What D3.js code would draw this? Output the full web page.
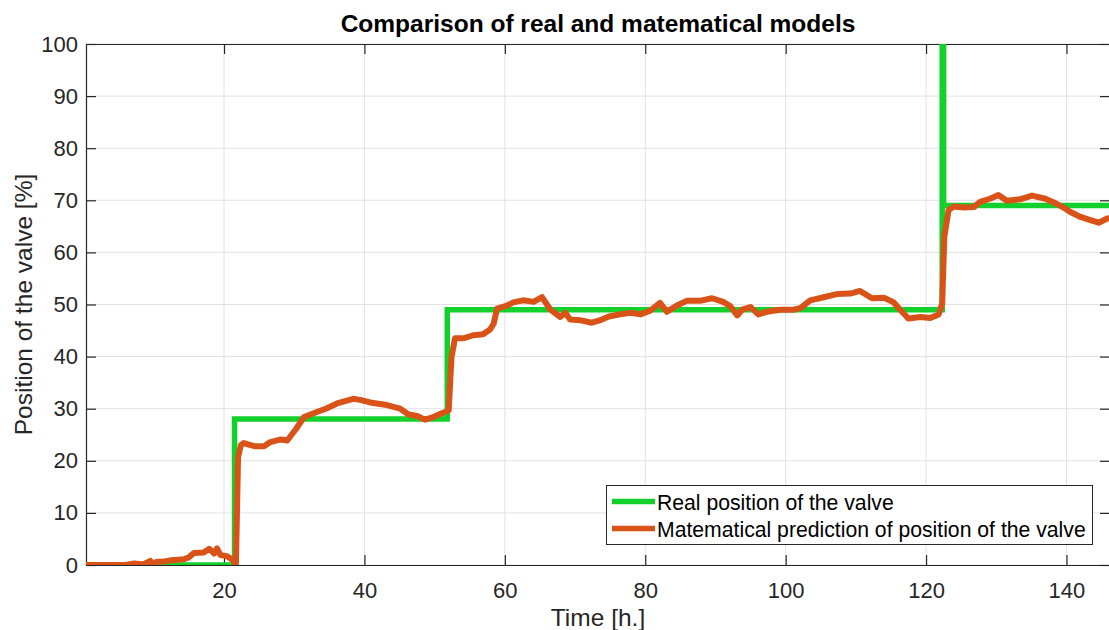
<!DOCTYPE html>
<html>
<head>
<meta charset="utf-8">
<script src="https://cdn.jsdelivr.net/npm/d3@7"></script>
<style>
  html, body { margin: 0; padding: 0; background: #fff; }
  svg { display: block; font-family: "Liberation Sans", Arial, Helvetica, sans-serif; }
</style>
</head>
<body>
<svg id="chart" width="1109" height="630"></svg>
<script>
// Real valve position (step signal): time in hours and position in %
const realTime  = [0.34, 21.5, 51.8, 122.3, 122.5, 146.2];
const realValue = [0,    28,   49,   105,   69,    69];

// Model prediction of the valve position
const predTime = [
  0.34, 3, 6, 7.2, 8.5, 9.5, 9.9, 10.3, 11.4, 12.5, 14.3, 15.0, 15.7, 17.1, 17.9, 18.6,
  19.0, 19.5, 20.4, 21.0, 21.7, 22.0, 22.4, 22.8, 24.3, 25.7, 26.6, 28.1, 29.0, 30.2,
  31.4, 33.3, 34.5, 36.1, 38.4, 39.4, 40.8, 43.2, 45.1, 46.3, 47.5, 48.6, 49.8, 51.2,
  52.0, 52.4, 52.9, 54.1, 55.5, 56.9, 57.9, 58.4, 58.9, 60.3, 61.2, 62.6, 64.1, 65.3,
  66.5, 67.9, 68.6, 69.3, 70.7, 72.4, 73.6, 74.8, 76.4, 77.9, 79.3, 80.7, 82.1, 83.1,
  84.5, 85.9, 87.8, 89.5, 91.1, 92.1, 93.1, 93.8, 95.0, 96.1, 97.3, 99.2, 101.1, 102.1,
  103.5, 105.4, 107.3, 109.2, 110.6, 112.3, 114.0, 115.4, 116.3, 117.5, 119.2, 120.6,
  121.8, 122.3, 122.6, 123.2, 123.9, 125.4, 126.8, 127.7, 129.1, 130.3, 131.5, 133.4,
  135.1, 137.0, 138.2, 139.6, 140.5, 142.0, 143.4, 144.6, 145.8, 146.2
];
const predValue = [
  0, 0, 0, 0.3, 0.1, 0.8, -1.0, 0.6, 0.65, 0.9, 1.1, 1.5, 2.3, 2.4, 3.1, 2.2,
  3.2, 1.9, 1.7, 1.2, 0.3, 20.7, 23.0, 23.4, 22.8, 22.8, 23.6, 24.1, 23.9, 26.0,
  28.4, 29.4, 30.0, 31.0, 31.9, 31.7, 31.2, 30.7, 30.0, 28.9, 28.6, 27.9, 28.4, 29.2,
  29.7, 39.9, 43.5, 43.5, 44.1, 44.3, 45.2, 46.3, 49.2, 49.8, 50.4, 50.8, 50.5, 51.4,
  49.0, 47.6, 48.4, 47.1, 47.0, 46.5, 47.0, 47.7, 48.1, 48.4, 48.1, 48.8, 50.3, 48.6,
  49.8, 50.7, 50.7, 51.2, 50.5, 49.7, 47.9, 49.0, 49.5, 48.1, 48.6, 49.0, 49.0, 49.3,
  50.8, 51.4, 52.0, 52.1, 52.6, 51.2, 51.3, 50.4, 49.0, 47.3, 47.6, 47.4,
  48.1, 50.2, 63.0, 68.1, 68.8, 68.6, 68.7, 69.7, 70.3, 71.0, 69.9, 70.2,
  70.9, 70.3, 69.6, 68.6, 67.8, 66.8, 66.2, 65.7, 66.5, 66.6
];

const xTicks = [20, 40, 60, 80, 100, 120, 140];
const yTicks = [0, 10, 20, 30, 40, 50, 60, 70, 80, 90, 100];

const titleText = "Comparison of real and matematical models";
const xLabel = "Time [h.]";
const yLabel = "Position of the valve [%]";
const seriesNames = ["Real position of the valve", "Matematical prediction of position of the valve"];
const seriesColors = ["#13d12d", "#d95319"];

const svg = d3.select("#chart");
const plotLeft = 86, plotRight = 1110, plotTop = 44, plotBottom = 565;
const axisColor = "#262626";

const x = d3.scaleLinear().domain([0.34, 146.2]).range([plotLeft, plotRight]);
const y = d3.scaleLinear().domain([0, 100]).range([plotBottom, plotTop]);

svg.append("defs").append("clipPath").attr("id", "plotClip")
  .append("rect").attr("x", plotLeft).attr("y", plotTop)
  .attr("width", plotRight - plotLeft).attr("height", plotBottom - plotTop);

// grid
const grid = svg.append("g");
grid.selectAll("line.gx").data(xTicks).join("line")
  .attr("x1", d => x(d)).attr("x2", d => x(d))
  .attr("y1", plotTop).attr("y2", plotBottom)
  .attr("stroke", "#e2e2e2").attr("stroke-width", 1);
grid.selectAll("line.gy").data(yTicks).join("line")
  .attr("y1", d => y(d)).attr("y2", d => y(d))
  .attr("x1", plotLeft).attr("x2", plotRight)
  .attr("stroke", "#e2e2e2").attr("stroke-width", 1);

// axes with inward ticks
const tickLen = 10;
const xAxisB = svg.append("g").attr("transform", `translate(0,${plotBottom})`)
  .call(d3.axisBottom(x).tickValues(xTicks).tickSizeInner(-tickLen).tickSizeOuter(0).tickPadding(18));
const xAxisT = svg.append("g").attr("transform", `translate(0,${plotTop})`)
  .call(d3.axisTop(x).tickValues(xTicks).tickSizeInner(-tickLen).tickSizeOuter(0).tickFormat(""));
const yAxisL = svg.append("g").attr("transform", `translate(${plotLeft},0)`)
  .call(d3.axisLeft(y).tickValues(yTicks).tickSizeInner(-tickLen).tickSizeOuter(0).tickPadding(18));
const yAxisR = svg.append("g").attr("transform", `translate(${plotRight},0)`)
  .call(d3.axisRight(y).tickValues(yTicks).tickSizeInner(-tickLen).tickSizeOuter(0).tickFormat(""));

[xAxisB, xAxisT, yAxisL, yAxisR].forEach(g => {
  g.select(".domain").attr("stroke", axisColor).attr("stroke-width", 1.2);
  g.selectAll(".tick line").attr("stroke", axisColor).attr("stroke-width", 1.2);
  g.selectAll(".tick text").attr("fill", axisColor).attr("font-size", 22)
    .attr("font-family", "Liberation Sans, Arial, sans-serif");
});
xAxisB.selectAll(".tick text").attr("dy", "0.71em").attr("y", 17);
yAxisL.selectAll(".tick text").attr("x", -8);

// series
const lines = svg.append("g").attr("clip-path", "url(#plotClip)");
const realData = realTime.map((t, i) => [t, realValue[i]]);
const predData = predTime.map((t, i) => [t, predValue[i]]);

lines.append("path").datum(realData)
  .attr("fill", "none").attr("stroke", seriesColors[0]).attr("stroke-width", 5.5)
  .attr("d", d3.line().x(d => x(d[0])).y(d => y(d[1])).curve(d3.curveStepAfter));

lines.append("path").datum(predData)
  .attr("fill", "none").attr("stroke", seriesColors[1]).attr("stroke-width", 6)
  .attr("stroke-linejoin", "round").attr("stroke-linecap", "round")
  .attr("d", d3.line().x(d => x(d[0])).y(d => y(d[1])));

// title and axis labels
svg.append("text").attr("x", (plotLeft + plotRight) / 2).attr("y", 32)
  .attr("text-anchor", "middle").attr("font-weight", "bold").attr("font-size", 24.5)
  .attr("fill", "#000").text(titleText);

svg.append("text").attr("x", (plotLeft + plotRight) / 2).attr("y", 626)
  .attr("text-anchor", "middle").attr("font-size", 24.5).attr("fill", axisColor).text(xLabel);

svg.append("text").attr("transform", `translate(31.5,${(plotTop + plotBottom) / 2}) rotate(-90)`)
  .attr("text-anchor", "middle").attr("font-size", 24.5).attr("fill", axisColor).text(yLabel);

// legend
const lg = svg.append("g");
lg.append("rect").attr("x", 606.5).attr("y", 485.5).attr("width", 486).attr("height", 59)
  .attr("fill", "#fff").attr("stroke", axisColor).attr("stroke-width", 1);
seriesNames.forEach((name, i) => {
  const yy = 501.5 + i * 27;
  lg.append("line").attr("x1", 612).attr("x2", 655).attr("y1", yy).attr("y2", yy)
    .attr("stroke", seriesColors[i]).attr("stroke-width", 5.5);
  lg.append("text").attr("x", 657).attr("y", yy + 8).attr("font-size", 21.2)
    .attr("fill", "#000").text(name);
});
</script>
</body>
</html>
